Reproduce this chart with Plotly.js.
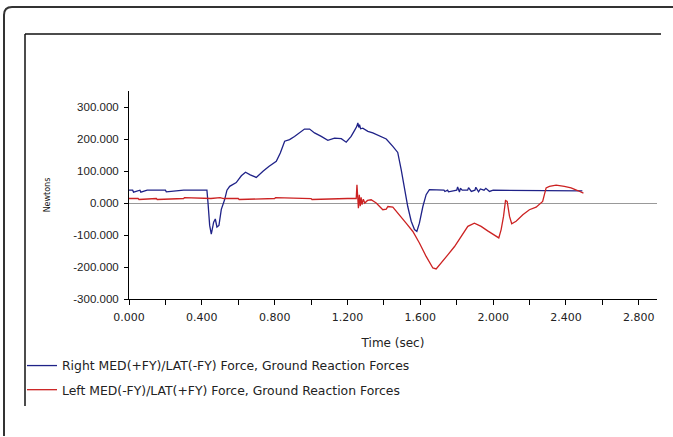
<!DOCTYPE html>
<html>
<head>
<meta charset="utf-8">
<script src="https://cdn.plot.ly/plotly-3.0.1.min.js"></script>
<style>
html,body{margin:0;padding:0;background:#fff;}
#chart{width:673px;height:437px;}
</style>
</head>
<body>
<div id="chart"></div>
<script>
// Right MED(+FY)/LAT(-FY) force (blue)
const rightTime = [0, 0.02, 0.025, 0.06, 0.065, 0.1, 0.2, 0.205, 0.3, 0.428, 0.434, 0.443, 0.452, 0.465, 0.474, 0.483, 0.494, 0.507, 0.525, 0.538, 0.553, 0.589, 0.617, 0.64, 0.666, 0.699, 0.736, 0.768, 0.809, 0.831, 0.855, 0.882, 0.909, 0.937, 0.964, 0.992, 1.019, 1.056, 1.092, 1.129, 1.166, 1.193, 1.22, 1.239, 1.25, 1.257, 1.262, 1.266, 1.272, 1.284, 1.3, 1.312, 1.339, 1.376, 1.413, 1.449, 1.476, 1.495, 1.513, 1.531, 1.55, 1.568, 1.581, 1.595, 1.614, 1.632, 1.65, 1.73, 1.735, 1.75, 1.755, 1.8, 1.805, 1.815, 1.82, 1.83, 1.86, 1.865, 1.88, 1.9, 1.905, 1.92, 1.93, 1.95, 1.96, 1.98, 2.0, 2.3, 2.45, 2.473, 2.49];
const rightForce = [40, 40, 34, 40, 34, 40, 40, 35, 40, 40, 0, -70, -97, -60, -50, -75, -70, -20, 10, 40, 52, 64, 85, 96, 88, 80, 99, 114, 130, 156, 193, 198, 208, 219, 231, 231, 219, 208, 196, 203, 201, 190, 208, 227, 238, 250, 236, 245, 232, 234, 228, 224, 219, 210, 200, 177, 158, 104, 47, -11, -57, -83, -89, -63, -11, 26, 42, 40, 36, 40, 35, 40, 50, 34, 46, 40, 40, 48, 36, 40, 49, 35, 44, 40, 46, 36, 40, 40, 40, 40, 38, 33];

// Left MED(-FY)/LAT(+FY) force (red)
const leftTime = [0, 0.05, 0.055, 0.15, 0.155, 0.3, 0.305, 0.45, 0.5, 0.52, 0.6, 0.605, 0.8, 0.805, 1.0, 1.005, 1.2, 1.248, 1.252, 1.256, 1.26, 1.265, 1.27, 1.275, 1.28, 1.287, 1.295, 1.31, 1.33, 1.358, 1.376, 1.394, 1.413, 1.422, 1.449, 1.486, 1.522, 1.559, 1.595, 1.632, 1.669, 1.687, 1.715, 1.751, 1.788, 1.824, 1.861, 1.897, 1.934, 1.97, 2.007, 2.031, 2.044, 2.057, 2.068, 2.077, 2.09, 2.102, 2.126, 2.163, 2.199, 2.236, 2.272, 2.291, 2.309, 2.346, 2.391, 2.428, 2.464, 2.496];
const leftForce = [14, 14, 11, 14, 11, 14, 17, 14, 17, 14, 14, 11, 14, 17, 14, 11, 14, 14, 57, 20, -16, 26, -10, 18, -5, 12, 0, 8, 10, 0, -11, -21, -19, -11, -13, -37, -63, -89, -125, -167, -203, -206, -188, -162, -136, -104, -73, -63, -73, -87, -99, -109, -83, -42, 8, 5, -42, -65, -57, -37, -21, -13, 5, 47, 52, 56, 52, 47, 39, 31];

const xTickVals = [0, 0.2, 0.4, 0.6, 0.8, 1.0, 1.2, 1.4, 1.6, 1.8, 2.0, 2.2, 2.4, 2.6, 2.8];
const xTickText = ['0.000', '', '0.400', '', '0.800', '', '1.200', '', '1.600', '', '2.000', '', '2.400', '', '2.800'];
const yTickVals = [-300, -200, -100, 0, 100, 200, 300];
const yTickText = ['-300.000', '-200.000', '-100.000', '0.000', '100.000', '200.000', '300.000'];

// layout geometry (pixels)
const L = 129, R = 16, T = 91, B = 138;
const W = 673 - L - R, H = 437 - T - B;
const px = v => (v - L) / W;
const py = v => (437 - B - v) / H;

const FONT = 'Liberation Sans, Arial, sans-serif';
const WFONT = 'DejaVu Sans, Verdana, sans-serif';

const data = [
  {x: rightTime, y: rightForce, type: 'scatter', mode: 'lines',
   name: 'Right MED(+FY)/LAT(-FY) Force, Ground Reaction Forces',
   line: {color: '#1f2288', width: 1.3}, legendgroup: 'a'},
  {x: leftTime, y: leftForce, type: 'scatter', mode: 'lines',
   name: 'Left MED(-FY)/LAT(+FY) Force, Ground Reaction Forces',
   line: {color: '#cc2222', width: 1.3}, legendgroup: 'b'}
];

// rounded outer frame path
const ox0 = px(4), oy0 = py(7), ox1 = px(690), oy1 = py(436);
const rx = 8 / W, ry = 8 / H;
const outerPath = `M ${ox0},${oy1} L ${ox0},${oy0 - ry} Q ${ox0},${oy0} ${ox0 + rx},${oy0} L ${ox1},${oy0}`;

const layout = {
  width: 673, height: 437,
  margin: {l: L, r: R, t: T, b: B},
  paper_bgcolor: '#fff', plot_bgcolor: '#fff',
  font: {family: FONT, size: 11, color: '#222'},
  showlegend: true,
  legend: {x: px(22), y: py(351), xanchor: 'left', yanchor: 'top',
           itemwidth: 30, tracegroupgap: 5, traceorder: 'grouped',
           font: {family: WFONT, size: 12.4, color: '#222'}, bgcolor: 'rgba(0,0,0,0)'},
  xaxis: {range: [0, 2.9], showgrid: false, zeroline: false,
          showline: true, linecolor: '#000', linewidth: 1,
          ticks: 'outside', ticklen: 5, tickcolor: '#000',
          ticklabelstandoff: 3,
          tickmode: 'array', tickvals: xTickVals, ticktext: xTickText,
          tickfont: {family: WFONT, size: 11, color: '#222'},
          title: {text: 'Time (sec)', font: {family: WFONT, size: 12, color: '#222'}, standoff: 15}},
  yaxis: {range: [-300, 350], showgrid: false,
          zeroline: true, zerolinecolor: '#999', zerolinewidth: 1,
          showline: true, linecolor: '#000', linewidth: 1,
          ticks: 'outside', ticklen: 4, tickcolor: '#000',
          ticklabelstandoff: 3,
          tickmode: 'array', tickvals: yTickVals, ticktext: yTickText,
          tickfont: {family: FONT, size: 11.5, color: '#222'},
          title: {text: 'Newtons', font: {family: WFONT, size: 8, color: '#111'}, standoff: 21}},
  shapes: [
    {type: 'path', xref: 'paper', yref: 'paper', path: outerPath,
     line: {color: '#333', width: 2}},
    {type: 'line', xref: 'paper', yref: 'paper', x0: px(25), y0: py(34), x1: px(661), y1: py(34),
     line: {color: '#111', width: 1.5}},
    {type: 'line', xref: 'paper', yref: 'paper', x0: px(25), y0: py(34), x1: px(25), y1: py(406),
     line: {color: '#111', width: 1.5}}
  ]
};

Plotly.newPlot('chart', data, layout, {displayModeBar: false, staticPlot: true});
</script>
</body>
</html>
